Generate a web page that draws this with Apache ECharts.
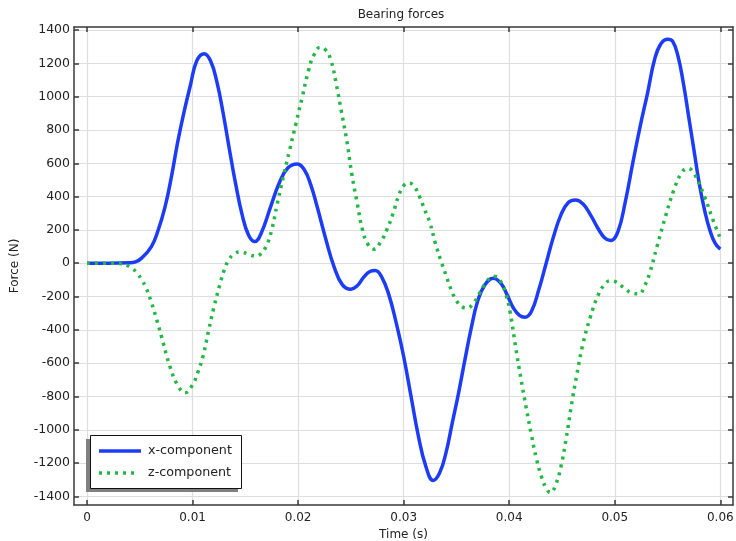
<!DOCTYPE html>
<html>
<head>
<meta charset="utf-8">
<script src="https://cdn.jsdelivr.net/npm/echarts@6/dist/echarts.min.js"></script>
<style>html,body{margin:0;padding:0;background:#fff;}#c{width:736px;height:541px;}</style>
</head>
<body>
<div id="c"></div>
<script>
// ---- data ----
const xTicks = [0, 0.01, 0.02, 0.03, 0.04, 0.05, 0.06];
const xTickLabels = ['0', '0.01', '0.02', '0.03', '0.04', '0.05', '0.06'];
const yTicks = [-1400, -1200, -1000, -800, -600, -400, -200, 0, 200, 400, 600, 800, 1000, 1200, 1400];

const timeX = [0, 0.002, 0.004, 0.0046, 0.0052, 0.0061, 0.0067, 0.0074, 0.0080, 0.0086, 0.0092, 0.0098, 0.0104, 0.0111, 0.0117, 0.0123, 0.0129, 0.0135, 0.0141, 0.0147, 0.0153, 0.0159, 0.0165, 0.0174, 0.0182, 0.0190, 0.0199, 0.0206, 0.0212, 0.0218, 0.0226, 0.0234, 0.0242, 0.0250, 0.0256, 0.0262, 0.0268, 0.0273, 0.0279, 0.0286, 0.0293, 0.0300, 0.0307, 0.0314, 0.0321, 0.0328, 0.0334, 0.0340, 0.0346, 0.0352, 0.0358, 0.0364, 0.0370, 0.0377, 0.0385, 0.0392, 0.0398, 0.0404, 0.0410, 0.0415, 0.0421, 0.0428, 0.0435, 0.0442, 0.0449, 0.0456, 0.0463, 0.0470, 0.0477, 0.0484, 0.0490, 0.0496, 0.0503, 0.0510, 0.0517, 0.0524, 0.0531, 0.0538, 0.0544, 0.0550, 0.0555, 0.0560, 0.0565, 0.0570, 0.0575, 0.0580, 0.0585, 0.0590, 0.0595, 0.0600];
const forceX = [0, 0, 2, 8, 32, 100, 190, 340, 520, 730, 910, 1070, 1215, 1258, 1215, 1090, 900, 680, 470, 290, 170, 130, 180, 340, 480, 570, 596, 560, 470, 340, 150, -20, -130, -156, -135, -85, -50, -44, -80, -190, -360, -560, -800, -1040, -1220, -1304, -1260, -1140, -960, -780, -580, -390, -230, -130, -90, -120, -190, -270, -315, -324, -290, -160, 0, 160, 290, 365, 380, 355, 290, 210, 155, 136, 190, 370, 600, 820, 1020, 1230, 1320, 1344, 1330, 1240, 1080, 880, 680, 480, 320, 200, 120, 84];

const timeZ = [0, 0.002, 0.0033, 0.0041, 0.0047, 0.0052, 0.0056, 0.0061, 0.0066, 0.0071, 0.0075, 0.0079, 0.0085, 0.0093, 0.0100, 0.0105, 0.0110, 0.0115, 0.0120, 0.0126, 0.0130, 0.0134, 0.0139, 0.0146, 0.0153, 0.0160, 0.0165, 0.0170, 0.0175, 0.0180, 0.0186, 0.0192, 0.0198, 0.0204, 0.0210, 0.0215, 0.0221, 0.0226, 0.0231, 0.0236, 0.0241, 0.0246, 0.0251, 0.0256, 0.0261, 0.0266, 0.0272, 0.0278, 0.0284, 0.0290, 0.0295, 0.0300, 0.0305, 0.0310, 0.0315, 0.0320, 0.0325, 0.0330, 0.0335, 0.0340, 0.0345, 0.0350, 0.0355, 0.0360, 0.0366, 0.0372, 0.0378, 0.0384, 0.0387, 0.0392, 0.0397, 0.0401, 0.0406, 0.0411, 0.0416, 0.0421, 0.0426, 0.0431, 0.0435, 0.0439, 0.0444, 0.0449, 0.0454, 0.0459, 0.0464, 0.0470, 0.0477, 0.0484, 0.0490, 0.0496, 0.0502, 0.0509, 0.0516, 0.0523, 0.0528, 0.0533, 0.0540, 0.0548, 0.0556, 0.0563, 0.0569, 0.0575, 0.0585, 0.0593, 0.0600];
const forceZ = [0, 0, -4, -24, -56, -102, -148, -235, -338, -450, -545, -628, -722, -778, -730, -655, -555, -410, -270, -125, -40, 15, 54, 68, 52, 42, 58, 105, 200, 350, 520, 680, 840, 1000, 1160, 1250, 1296, 1280, 1220, 1080, 910, 740, 530, 360, 200, 115, 84, 125, 200, 300, 400, 465, 482, 460, 400, 320, 240, 120, 20, -70, -160, -225, -260, -270, -240, -180, -115, -82, -80, -110, -190, -300, -500, -690, -865, -1030, -1180, -1290, -1350, -1378, -1330, -1220, -1050, -850, -670, -480, -320, -195, -130, -105, -115, -150, -178, -184, -140, -60, 100, 280, 440, 540, 570, 540, 400, 260, 150];

const seriesNames = ['x-component', 'z-component'];
const titleText = 'Bearing forces';
const xName = 'Time (s)';
const yName = 'Force (N)';

// ---- styles ----
const BLUE = '#1c3cf8';
const GREEN = '#22b844';
const FONT = 'DejaVu Sans';
const AXIS_COLOR = '#3a3a3a';
const GRID_COLOR = '#dedede';

const chart = echarts.init(document.getElementById('c'), null, {renderer: 'canvas'});

const xMin = -0.001232, xMax = 0.0612, yMin = -1451.6, yMax = 1418;

function baseX(extra) {
  return Object.assign({
    type: 'value', min: xMin, max: xMax,
    axisLine: {show: true, onZero: false, lineStyle: {color: AXIS_COLOR, width: 1.5}},
    axisTick: {show: true, inside: true, length: 5, customValues: xTicks, lineStyle: {color: AXIS_COLOR, width: 1.5}},
    splitLine: {show: false},
    axisLabel: {show: false}
  }, extra);
}
function baseY(extra) {
  return Object.assign({
    type: 'value', min: yMin, max: yMax,
    axisLine: {show: true, onZero: false, lineStyle: {color: AXIS_COLOR, width: 1.5}},
    axisTick: {show: true, inside: true, length: 5, customValues: yTicks, lineStyle: {color: AXIS_COLOR, width: 1.5}},
    splitLine: {show: false},
    axisLabel: {show: false}
  }, extra);
}

chart.setOption({
  animation: false,
  backgroundColor: '#fff',
  grid: {left: 74, top: 27, width: 659, height: 478, containLabel: false, outerBoundsMode: 'none'},
  xAxis: [
    baseX({
      position: 'bottom',
      name: xName, nameLocation: 'middle', nameGap: 20,
      nameTextStyle: {fontFamily: FONT, fontSize: 12, color: '#222'},
      splitLine: {show: true, lineStyle: {color: GRID_COLOR, width: 1.2}},
      axisLabel: {show: true, customValues: xTicks, margin: 7, fontFamily: FONT, fontSize: 12, color: '#222',
        formatter: (v) => { const i = xTicks.indexOf(v); return i >= 0 ? xTickLabels[i] : ''; }}
    }),
    baseX({position: 'top'})
  ],
  yAxis: [
    baseY({
      position: 'left',
      name: yName, nameLocation: 'middle', nameGap: 53, nameRotate: 90,
      nameTextStyle: {fontFamily: FONT, fontSize: 12, color: '#222'},
      splitLine: {show: true, lineStyle: {color: GRID_COLOR, width: 1.2}},
      axisLabel: {show: true, customValues: yTicks, margin: 4, fontFamily: FONT, fontSize: 12.5, color: '#222',
        formatter: (v) => String(Math.round(v))}
    }),
    baseY({position: 'right'})
  ],
  series: [
    {
      name: seriesNames[0], type: 'line', xAxisIndex: 0, yAxisIndex: 0,
      data: timeX.map((t, i) => [t, forceX[i]]),
      showSymbol: false, smooth: 0.45,
      lineStyle: {color: BLUE, width: 3.5}, z: 3
    },
    {
      name: seriesNames[1], type: 'line', xAxisIndex: 0, yAxisIndex: 0,
      data: timeZ.map((t, i) => [t, forceZ[i]]),
      showSymbol: false, smooth: 0.45,
      lineStyle: {color: GREEN, width: 3.5, type: [3, 5], cap: 'butt'}, z: 4
    }
  ],
  graphic: [
    {type: 'text', x: 401, y: 15, style: {text: titleText, fontFamily: FONT, fontSize: 12, fill: '#222', textAlign: 'center', textVerticalAlign: 'middle'}},
    {type: 'rect', shape: {x: 86, y: 439, width: 152, height: 53}, style: {fill: '#808080'}, z: 10},
    {type: 'rect', shape: {x: 90.5, y: 435.5, width: 151, height: 53}, style: {fill: '#fff', stroke: '#111', lineWidth: 1}, z: 11},
    {type: 'line', shape: {x1: 99, y1: 451, x2: 141, y2: 451}, style: {stroke: BLUE, lineWidth: 3.5}, z: 12},
    {type: 'line', shape: {x1: 99, y1: 473, x2: 139, y2: 473}, style: {stroke: GREEN, lineWidth: 3.5, lineDash: [3, 5]}, z: 12},
    {type: 'text', x: 148, y: 451, style: {text: seriesNames[0], fontFamily: FONT, fontSize: 12.7, fill: '#222', textVerticalAlign: 'middle'}, z: 12},
    {type: 'text', x: 148, y: 473, style: {text: seriesNames[1], fontFamily: FONT, fontSize: 12.7, fill: '#222', textVerticalAlign: 'middle'}, z: 12}
  ]
});
</script>
</body>
</html>
